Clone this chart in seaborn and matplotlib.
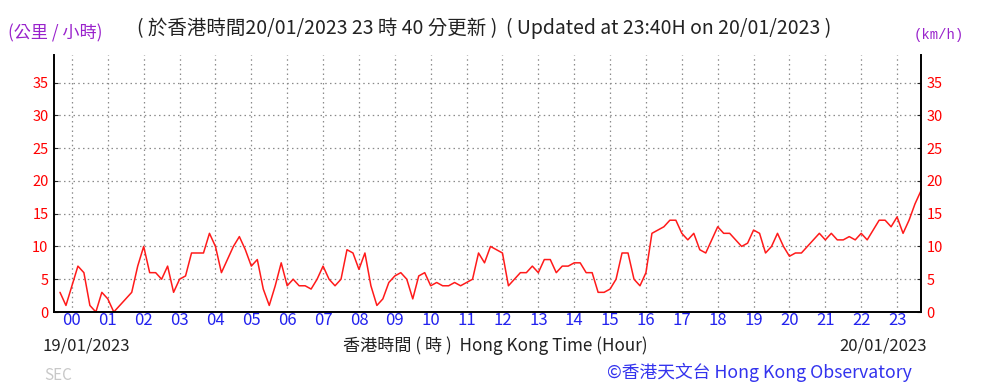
import numpy as np
import pandas as pd
import matplotlib
matplotlib.use("Agg")
import matplotlib.pyplot as plt
import seaborn as sns

# 10-minute wind speed readings (km/h), from 23:40 on 19/01 to 23:40 on 20/01
wind_kmh = [
    3, 1, 4, 7, 6, 1, 0, 3, 2, 0,
    1, 2, 3, 7, 10, 6, 6, 5, 7, 3,
    5, 5.5, 9, 9, 9, 12, 10, 6, 8, 10,
    11.5, 9.5, 7, 8, 3.5, 1, 4, 7.5, 4, 5,
    4, 4, 3.5, 5, 7, 5, 4, 5, 9.5, 9,
    6.5, 9, 4, 1, 2, 4.5, 5.5, 6,
    5, 2, 5.5, 6, 4, 4.5, 4, 4, 4.5, 4,
    4.5, 5, 9, 7.5, 10, 9.5, 9, 4, 5, 6,
    6, 7, 6, 8, 8, 6, 7, 7, 7.5,
    7.5, 6, 6, 3, 3, 3.5, 5, 9, 9, 5,
    4, 6, 12, 12.5, 13, 14, 14, 12, 11, 12,
    9.5, 9, 11, 13, 12, 12, 11, 10, 10.5,
    12.5, 12, 9, 10, 12, 10, 8.5, 9, 9, 10,
    11, 12, 11, 12, 11, 11, 11.5, 11, 12, 11,
    12.5, 14, 14, 13, 14.5, 12, 14, 16.5, 18.5,
]
minutes_from_midnight = list(range(-20, 1421, 10))
hour_labels = [f"{h:02d}" for h in range(24)]
y_ticks = [0, 5, 10, 15, 20, 25, 30, 35]

df = pd.DataFrame({
    "hour": np.array(minutes_from_midnight) / 60.0,
    "kmh": wind_kmh,
})

sns.set_style("white")
plt.rcParams["font.family"] = ["Noto Sans CJK TC", "DejaVu Sans"]

fig = plt.figure(figsize=(9.83, 3.88), dpi=100)
ax = fig.add_axes([54 / 983, 76 / 388, 867 / 983, 257 / 388])

sns.lineplot(data=df, x="hour", y="kmh", ax=ax, color="#ff1a1a",
             linewidth=1.1, estimator=None)

ax.set_xlim(-1 / 3, 23 + 2 / 3)
ax.set_ylim(0, 39.2)
ax.set_xticks(range(24))
ax.set_xticklabels(hour_labels)
ax.set_xticks(np.arange(-0.5, 24, 0.5), minor=True)
ax.set_yticks(y_ticks)
ax.set_xlabel("")
ax.set_ylabel("")

ax.grid(True, which="major", linestyle=(0, (1.2, 2.6)), color="#8a8a8a", linewidth=0.9)
ax.tick_params(axis="x", which="major", direction="in", length=3, colors="black",
               labelcolor="#2222ee", labelsize=12, pad=0)
ax.tick_params(axis="x", which="minor", direction="in", length=2, colors="black")
ax.tick_params(axis="y", direction="in", length=3, left=True, right=True,
               labelleft=True, labelright=True, labelcolor="#ff0000",
               labelsize=10.5, pad=4)

for side in ["left", "right", "bottom"]:
    ax.spines[side].set_visible(True)
    ax.spines[side].set_color("black")
    ax.spines[side].set_linewidth(1.4)
ax.spines["top"].set_visible(False)

# header texts
fig.text(8 / 983, 1 - 33 / 388, "(公里 / 小時)", color="#9922cc", fontsize=12.3,
         va="center", ha="left")
fig.text(484 / 983, 1 - 28 / 388,
         "( 於香港時間20/01/2023 23 時 40 分更新 )  ( Updated at 23:40H on 20/01/2023 )",
         color="#222222", fontsize=14, va="center", ha="center")
fig.text(964 / 983, 1 - 35 / 388, "(km/h)", color="#9922cc", fontsize=10,
         va="center", ha="right", family=["Liberation Mono", "DejaVu Sans Mono"])

# footer texts
fig.text(43 / 983, 1 - 346 / 388, "19/01/2023", color="#222222", fontsize=12,
         va="center", ha="left")
fig.text(495 / 983, 1 - 346 / 388, "香港時間 ( 時 )  Hong Kong Time (Hour)",
         color="#222222", fontsize=12.3, va="center", ha="center")
fig.text(927 / 983, 1 - 346 / 388, "20/01/2023", color="#222222", fontsize=12,
         va="center", ha="right")
fig.text(44 / 983, 1 - 376 / 388, "SEC", color="#c8c8c8", fontsize=11,
         va="center", ha="left")
fig.text(912 / 983, 1 - 372 / 388, "©香港天文台 Hong Kong Observatory",
         color="#3333ee", fontsize=12.8, va="center", ha="right")

fig.savefig("out.png", dpi=100)
